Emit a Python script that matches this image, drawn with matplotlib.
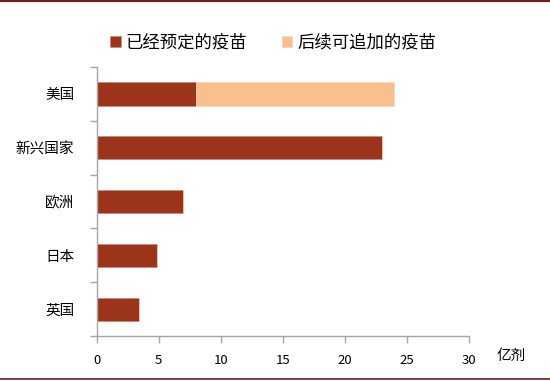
import matplotlib
matplotlib.use('Agg')
import matplotlib.pyplot as plt
from matplotlib.lines import Line2D

plt.rcParams['font.family'] = ['Noto Sans CJK SC', 'DejaVu Sans']

countries = ['美国', '新兴国家', '欧洲', '日本', '英国']
booked = [8, 23, 7, 4.9, 3.4]
optional = [16, 0, 0, 0, 0]
x_ticks = [0, 5, 10, 15, 20, 25, 30]

dark_red = '#9B341B'
peach = '#F9BF8F'
axis_grey = '#A6A6A6'

fig = plt.figure(figsize=(5.5, 3.81), dpi=100)
ax = fig.add_axes([0.1755, 0.118, 0.677, 0.706])

ypos = list(range(len(countries)))[::-1]
ax.barh(ypos, booked, height=0.43, color=dark_red, edgecolor='#C98A7A', linewidth=0.5,
        label='已经预定的疫苗')
ax.barh(ypos, optional, left=booked, height=0.43, color=peach, edgecolor='#FBD5B5',
        linewidth=0.5, label='后续可追加的疫苗')

ax.set_xlim(0, 30)
ax.set_ylim(-0.5, len(countries) - 0.5)
ax.set_xticks(x_ticks)
ax.set_xticklabels([str(t) for t in x_ticks], fontsize=9.5)

# category labels centred, ticks between categories
ax.set_yticks(ypos)
ax.set_yticklabels(countries, fontsize=10.5)
ax.set_yticks([y - 0.5 for y in range(len(countries) + 1)], minor=True)
ax.tick_params(axis='y', which='major', length=0, pad=16)
ax.tick_params(axis='y', which='minor', length=5, color=axis_grey, width=1)
ax.tick_params(axis='x', length=5, color=axis_grey, width=1, pad=8)

for s in ['top', 'right']:
    ax.spines[s].set_visible(False)
for s in ['left', 'bottom']:
    ax.spines[s].set_color(axis_grey)
    ax.spines[s].set_linewidth(1)

fig.text(0.903, 0.065, '亿剂', fontsize=10.5, ha='left', va='center')

ax.legend(loc='lower center', bbox_to_anchor=(0.475, 1.0), ncol=2, frameon=False,
          fontsize=12.5, handlelength=0.6, handleheight=0.6, handletextpad=0.3,
          columnspacing=2.0)

fig.add_artist(Line2D([0, 1], [0.998, 0.998], color='#7B1A1A', linewidth=1.5))
fig.add_artist(Line2D([0, 1], [0.004, 0.004], color='#7B1A1A', linewidth=1.2))

fig.savefig('out.png', dpi=100)
